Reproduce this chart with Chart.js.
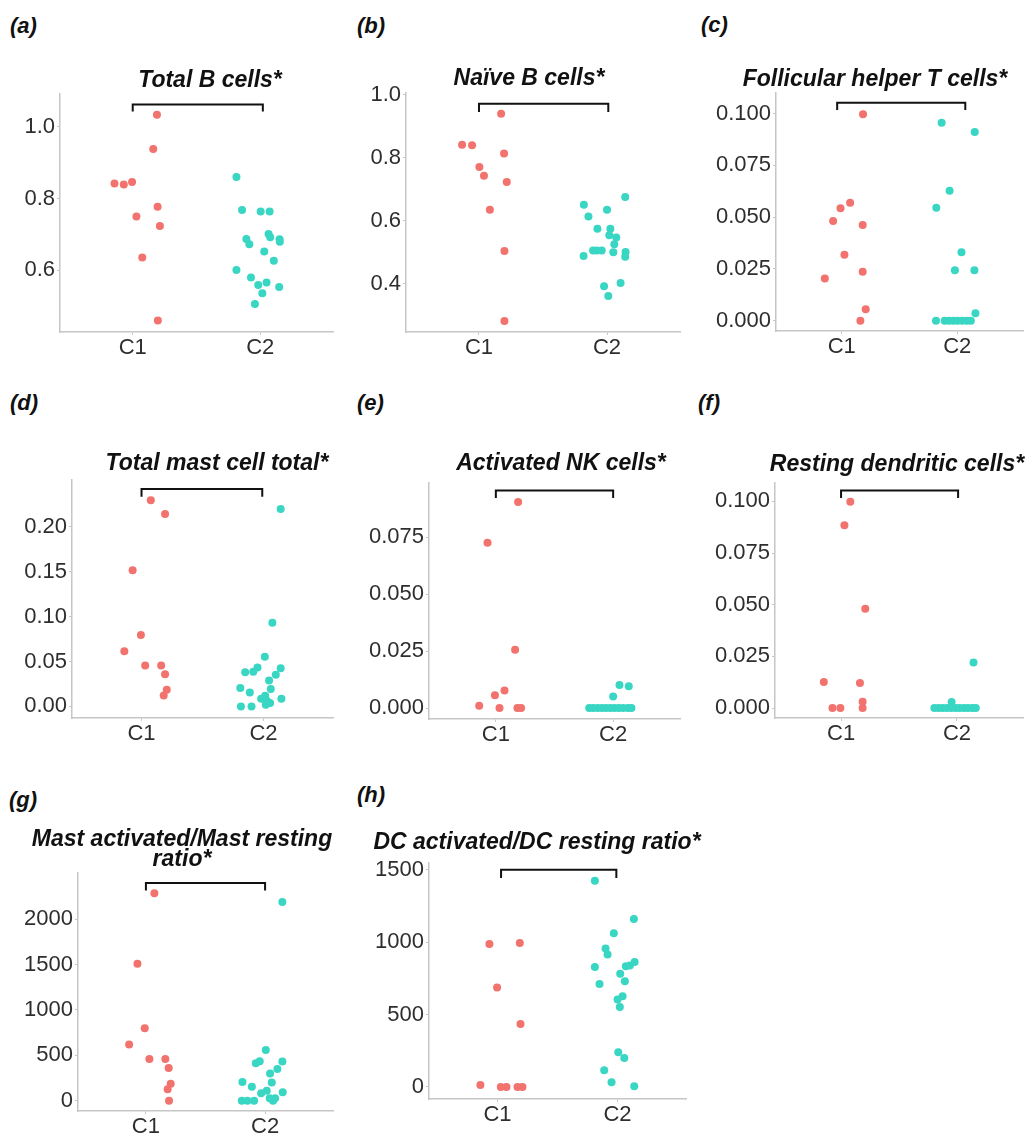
<!DOCTYPE html>
<html>
<head>
<meta charset="utf-8">
<title>Immune cell fractions C1 vs C2</title>
<script src="https://cdn.jsdelivr.net/npm/chart.js@4.4.1/dist/chart.umd.min.js"></script>
<style>
  body { margin: 0; background: #fff; }
  #page { position: relative; width: 1027px; height: 1133px; overflow: hidden; background: #fff; }
  #page canvas { position: absolute; }
  .tag, .ttl {
    position: absolute;
    font-family: 'Liberation Sans', Arial, sans-serif;
    font-weight: bold;
    font-style: italic;
    color: #111;
    line-height: 1;
    white-space: nowrap;
  }
  .tag { font-size: 22px; transform: translateY(-50%); }
  .ttl { font-size: 23px; transform: translate(-50%, -50%); }
</style>
</head>
<body>
<div id="page"></div>
<script>
'use strict';
//--------------------DATA

let categories = ['C1', 'C2'];

// (a) Total B cells
let totalB_C1 = [0.842, 0.839, 0.846, 1.034, 0.938, 0.777, 0.750, 0.723, 0.635, 0.459];
let totalB_C1_jit = [-0.143, -0.070, -0.005, 0.190, 0.161, 0.195, 0.029, 0.213, 0.075, 0.197];
let totalB_C2 = [0.860, 0.768, 0.764, 0.764, 0.687, 0.672, 0.701, 0.692, 0.686, 0.679, 0.652, 0.626, 0.600, 0.579, 0.558, 0.565, 0.535, 0.553, 0.505];
let totalB_C2_jit = [-0.187, -0.143, 0.003, 0.073, -0.109, -0.086, 0.065, 0.078, 0.151, 0.153, 0.031, 0.106, -0.187, -0.073, -0.016, 0.049, 0.016, 0.148, -0.042];
let totalB_ticks = ['0.6', '0.8', '1.0'];
let totalB_bracketX = [1.0, 2.02];
let totalB_bracketY = [1.043, 1.063];

// (b) Naive B cells
let naiveB_C1 = [0.841, 0.839, 0.939, 0.813, 0.770, 0.742, 0.722, 0.634, 0.503, 0.281];
let naiveB_C1_jit = [-0.132, -0.054, 0.173, 0.196, 0.003, 0.039, 0.217, 0.085, 0.199, 0.199];
let naiveB_C2 = [0.650, 0.613, 0.634, 0.675, 0.574, 0.574, 0.553, 0.546, 0.525, 0.505, 0.505, 0.505, 0.499, 0.487, 0.500, 0.485, 0.391, 0.402, 0.360];
let naiveB_C2_jit = [-0.181, -0.145, 0, 0.142, -0.075, 0.026, 0.018, 0.072, 0.057, -0.109, -0.080, -0.041, 0.049, -0.183, 0.145, 0.142, -0.023, 0.106, 0.010];
let naiveB_ticks = ['0.4', '0.6', '0.8', '1.0'];
let naiveB_bracketX = [1.0, 2.01];
let naiveB_bracketY = [0.945, 0.971];

// (c) Follicular helper T cells
let tfh_C1 = [0.0997, 0.0570, 0.0543, 0.0481, 0.0462, 0.0318, 0.0204, 0.0236, 0.0055, 0.0];
let tfh_C1_jit = [0.184, 0.072, -0.011, -0.075, 0.181, 0.023, -0.147, 0.181, 0.207, 0.161];
let tfh_C2 = [0.0956, 0.0911, 0.0628, 0.0546, 0.0331, 0.0244, 0.0244, 0.0036, 0, 0, 0, 0, 0, 0, 0, 0];
let tfh_C2_jit = [-0.135, 0.152, -0.066, -0.181, 0.037, -0.020, 0.149, 0.158, -0.184, -0.109, -0.072, -0.034, 0.003, 0.043, 0.083, 0.118];
let tfh_ticks = ['0.000', '0.025', '0.050', '0.075', '0.100'];
let tfh_bracketX = [0.96, 2.07];
let tfh_bracketY = [0.1018, 0.1053];

// (d) Total mast cell total
let mast_C1 = [0.2296, 0.2141, 0.1515, 0.0796, 0.0615, 0.0456, 0.0456, 0.0359, 0.0185, 0.0122];
let mast_C1_jit = [0.076, 0.193, -0.073, -0.005, -0.141, 0.030, 0.161, 0.193, 0.207, 0.182];
let mast_C2 = [0.2196, 0.0930, 0.0552, 0.0433, 0.0385, 0.0426, 0.0381, 0.0352, 0.0289, 0.0204, 0.0156, 0.0193, 0.0119, 0.0085, 0.0063, 0.0037, 0.0019, 0, 0, 0.0085];
let mast_C2_jit = [0.141, 0.073, 0.011, -0.049, -0.084, 0.141, -0.150, 0.101, 0.046, -0.190, -0.112, 0.060, 0.014, -0.019, 0.027, 0.054, 0.019, -0.185, -0.098, 0.147];
let mast_ticks = ['0.00', '0.05', '0.10', '0.15', '0.20'];
let mast_bracketX = [1.0, 1.99];
let mast_bracketY = [0.2333, 0.2419];

// (e) Activated NK cells
let nk_C1 = [0.0904, 0.0725, 0.0256, 0.0077, 0.0056, 0.0010, 0, 0, 0];
let nk_C1_jit = [0.190, -0.071, 0.164, 0.074, -0.008, -0.142, 0.031, 0.184, 0.215];
let nk_C2 = [0.0101, 0.0096, 0.0051, 0, 0, 0, 0, 0, 0, 0, 0, 0, 0, 0];
let nk_C2_jit = [0.054, 0.133, 0, -0.204, -0.170, -0.133, -0.096, -0.062, -0.025, 0.011, 0.048, 0.085, 0.125, 0.156];
let nk_ticks = ['0.000', '0.025', '0.050', '0.075'];
let nk_bracketX = [1.0, 2.0];
let nk_bracketY = [0.0921, 0.0954];

// (f) Resting dendritic cells
let rdc_C1 = [0.0998, 0.0885, 0.0481, 0.0126, 0.0121, 0.0031, 0, 0, 0];
let rdc_C1_jit = [0.080, 0.029, 0.209, -0.149, 0.163, 0.186, 0.186, -0.074, -0.006];
let rdc_C2 = [0.0221, 0.0029, 0, 0, 0, 0, 0, 0, 0, 0, 0, 0, 0];
let rdc_C2_jit = [0.143, -0.046, -0.195, -0.158, -0.123, -0.086, -0.049, -0.011, 0.023, 0.060, 0.095, 0.132, 0.163];
let rdc_ticks = ['0.000', '0.025', '0.050', '0.075', '0.100'];
let rdc_bracketX = [1.0, 2.01];
let rdc_bracketY = [0.1016, 0.1053];

// (g) Mast activated / Mast resting ratio
let mastRatio_C1 = [2283, 1507, 798, 618, 460, 460, 360, 187, 125, 0];
let mastRatio_C1_jit = [0.071, -0.071, -0.010, -0.141, 0.029, 0.163, 0.191, 0.208, 0.182, 0.194];
let mastRatio_C2 = [2187, 559, 412, 434, 430, 349, 298, 206, 199, 154, 92, 110, 81, 26, 26, 0, 0, 0, 0];
let mastRatio_C2_jit = [0.145, 0.006, -0.078, -0.045, 0.145, 0.103, 0.042, -0.190, 0.056, -0.111, 0.148, 0.014, -0.033, 0.084, 0.039, 0.067, -0.195, -0.148, -0.092];
let mastRatio_ticks = ['0', '500', '1000', '1500', '2000'];
let mastRatio_bracketX = [1.0, 2.0];
let mastRatio_bracketY = [2313, 2398];

// (h) DC activated / DC resting ratio
let dcRatio_C1 = [987, 994, 686, 435, 14, 0, 0, 0, 0];
let dcRatio_C1_jit = [-0.067, 0.186, -0.003, 0.192, -0.142, 0.028, 0.075, 0.167, 0.208];
let dcRatio_C2 = [1424, 1160, 1061, 955, 914, 828, 833, 838, 863, 782, 729, 711, 626, 603, 552, 239, 200, 115, 32, 5];
let dcRatio_C2_jit = [-0.189, 0.136, -0.031, -0.1, -0.083, -0.189, 0.069, 0.103, 0.142, 0.022, 0.061, -0.15, 0.042, 0, 0.019, 0.006, 0.056, -0.111, -0.05, 0.139];
let dcRatio_ticks = ['0', '500', '1000', '1500'];
let dcRatio_bracketX = [1.03, 1.99];
let dcRatio_bracketY = [1442, 1499];

//--------------------PANELS (layout: plot box in page px, y range)

let panels = [
  { tag: '(a)', tagPos: [10, 26], title: ['Total B cells*'], titlePos: [210, 79],
    box: [60, 94, 333, 332], yRange: [0.427, 1.092],
    c1: totalB_C1, c1j: totalB_C1_jit, c2: totalB_C2, c2j: totalB_C2_jit,
    ticks: totalB_ticks, bx: totalB_bracketX, by: totalB_bracketY },
  { tag: '(b)', tagPos: [357, 26], title: ['Naïve B cells*'], titlePos: [529, 77],
    box: [406, 93, 680, 332], yRange: [0.246, 1.005],
    c1: naiveB_C1, c1j: naiveB_C1_jit, c2: naiveB_C2, c2j: naiveB_C2_jit,
    ticks: naiveB_ticks, bx: naiveB_bracketX, by: naiveB_bracketY },
  { tag: '(c)', tagPos: [701, 25], title: ['Follicular helper T cells*'], titlePos: [875, 78],
    box: [776, 93, 1023, 331], yRange: [-0.005, 0.110],
    c1: tfh_C1, c1j: tfh_C1_jit, c2: tfh_C2, c2j: tfh_C2_jit,
    ticks: tfh_ticks, bx: tfh_bracketX, by: tfh_bracketY },
  { tag: '(d)', tagPos: [10, 403], title: ['Total mast cell total*'], titlePos: [217, 462],
    box: [72, 480, 333, 718], yRange: [-0.0129, 0.252],
    c1: mast_C1, c1j: mast_C1_jit, c2: mast_C2, c2j: mast_C2_jit,
    ticks: mast_ticks, bx: mast_bracketX, by: mast_bracketY },
  { tag: '(e)', tagPos: [357, 403], title: ['Activated NK cells*'], titlePos: [561, 462],
    box: [429, 483, 680, 719], yRange: [-0.0048, 0.0987],
    c1: nk_C1, c1j: nk_C1_jit, c2: nk_C2, c2j: nk_C2_jit,
    ticks: nk_ticks, bx: nk_bracketX, by: nk_bracketY },
  { tag: '(f)', tagPos: [698, 403], title: ['Resting dendritic cells*'], titlePos: [897, 463],
    box: [775, 483, 1023, 718], yRange: [-0.0048, 0.1089],
    c1: rdc_C1, c1j: rdc_C1_jit, c2: rdc_C2, c2j: rdc_C2_jit,
    ticks: rdc_ticks, bx: rdc_bracketX, by: rdc_bracketY },
  { tag: '(g)', tagPos: [9, 800], title: ['Mast activated/Mast resting', 'ratio*'], titlePos: [182, 838],
    box: [78, 873, 333, 1111], yRange: [-114, 2507],
    c1: mastRatio_C1, c1j: mastRatio_C1_jit, c2: mastRatio_C2, c2j: mastRatio_C2_jit,
    ticks: mastRatio_ticks, bx: mastRatio_bracketX, by: mastRatio_bracketY },
  { tag: '(h)', tagPos: [357, 795], title: ['DC activated/DC resting ratio*'], titlePos: [537, 841],
    box: [429, 863, 686, 1099], yRange: [-83, 1546],
    c1: dcRatio_C1, c1j: dcRatio_C1_jit, c2: dcRatio_C2, c2j: dcRatio_C2_jit,
    ticks: dcRatio_ticks, bx: dcRatio_bracketX, by: dcRatio_bracketY },
];

//--------------------SETTINGS

let xRange = [0.43, 2.57];
let yAxisW = 66;
let xAxisH = 44;
let padTop = 24;
let padRight = 6;
let red = '#F2726E';
let cyan = '#38D6C3';
let axisGray = '#c6c6c6';
let labelFont = { family: "'Liberation Sans', Arial, sans-serif", size: 22 };

//--------------------FUNCTIONS

function points(values, jitter, center) {
  let out = [];
  for (let i = 0; i < values.length; i++) {
    out.push({ x: center + jitter[i], y: values[i] });
  }
  return out;
}

function bracketPoints(bx, by) {
  return [
    { x: bx[0], y: by[0] },
    { x: bx[0], y: by[1] },
    { x: bx[1], y: by[1] },
    { x: bx[1], y: by[0] },
  ];
}

function addText(page, cls, text, x, y) {
  let div = document.createElement('div');
  div.className = cls;
  div.textContent = text;
  div.style.left = x + 'px';
  div.style.top = y + 'px';
  page.appendChild(div);
}

function renderPanel(page, p) {
  let [L, T, R, B] = p.box;
  let canvas = document.createElement('canvas');
  let w = yAxisW + (R - L) + padRight;
  let h = padTop + (B - T) + xAxisH;
  canvas.width = w;
  canvas.height = h;
  canvas.style.left = (L - yAxisW) + 'px';
  canvas.style.top = (T - padTop) + 'px';
  canvas.style.width = w + 'px';
  canvas.style.height = h + 'px';
  page.appendChild(canvas);

  addText(page, 'tag', p.tag, p.tagPos[0], p.tagPos[1]);
  for (let i = 0; i < p.title.length; i++) {
    addText(page, 'ttl', p.title[i], p.titlePos[0], p.titlePos[1] + i * 20);
  }

  let tickValues = p.ticks.map(Number);

  new Chart(canvas, {
    type: 'scatter',
    data: {
      datasets: [
        {
          label: 'bracket',
          data: bracketPoints(p.bx, p.by),
          showLine: true,
          borderColor: '#111',
          borderWidth: 2,
          borderJoinStyle: 'miter',
          pointRadius: 0,
          clip: false,
        },
        {
          label: categories[0],
          data: points(p.c1, p.c1j, 1),
          backgroundColor: red,
          borderWidth: 0,
          pointRadius: 4,
          clip: false,
        },
        {
          label: categories[1],
          data: points(p.c2, p.c2j, 2),
          backgroundColor: cyan,
          borderWidth: 0,
          pointRadius: 4,
          clip: false,
        },
      ],
    },
    options: {
      responsive: false,
      animation: false,
      devicePixelRatio: 1,
      events: [],
      layout: { padding: { top: padTop, right: padRight, left: 0, bottom: 0 } },
      plugins: { legend: { display: false }, tooltip: { enabled: false }, title: { display: false } },
      scales: {
        x: {
          type: 'linear',
          min: xRange[0],
          max: xRange[1],
          afterBuildTicks: (s) => { s.ticks = [{ value: 1 }, { value: 2 }]; },
          afterFit: (s) => { s.height = xAxisH; },
          ticks: {
            callback: (v, i) => categories[i],
            font: labelFont,
            color: '#2e2e2e',
            padding: 0,
            maxRotation: 0,
          },
          grid: { display: true, drawOnChartArea: false, drawTicks: true, tickLength: 3, color: axisGray },
          border: { display: true, color: axisGray, width: 1.5 },
        },
        y: {
          type: 'linear',
          min: p.yRange[0],
          max: p.yRange[1],
          afterBuildTicks: (s) => { s.ticks = tickValues.map((v) => ({ value: v })); },
          afterFit: (s) => { s.width = yAxisW; },
          ticks: {
            callback: (v, i) => p.ticks[i],
            font: labelFont,
            color: '#2e2e2e',
            padding: 2,
          },
          grid: { display: true, drawOnChartArea: false, drawTicks: true, tickLength: 3, color: axisGray },
          border: { display: true, color: axisGray, width: 1.5 },
        },
      },
    },
  });
}

//--------------------FUNCTION CALLS

let page = document.getElementById('page');
for (let i = 0; i < panels.length; i++) {
  renderPanel(page, panels[i]);
}
</script>
</body>
</html>
